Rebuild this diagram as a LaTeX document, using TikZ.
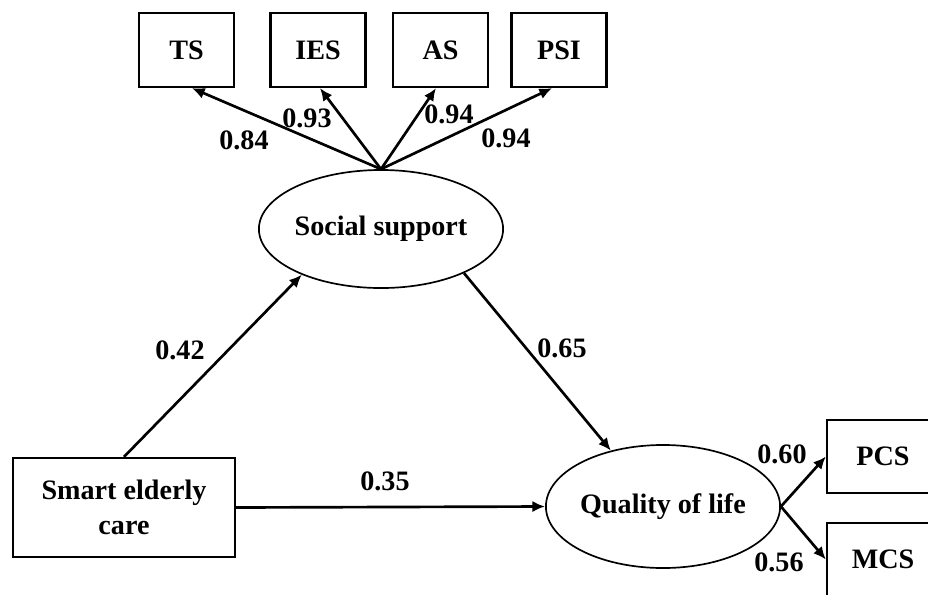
\documentclass[tikz,border=0pt]{standalone}
\usepackage{fontspec}
\setmainfont{Liberation Serif}
\usepackage{tikz}
\usetikzlibrary{positioning,arrows.meta,calc,shapes.geometric}

\begin{document}
\begin{tikzpicture}[x=0.025cm,y=-0.025cm,
    font=\fontsize{20}{25}\selectfont\bfseries,
    obs/.style={draw,line width=1.6pt,rectangle,inner sep=0pt,align=center},
    lat/.style={draw,line width=1.2pt,ellipse,inner sep=0pt},
    path/.style={line width=1.9pt,-{Latex[length=9pt,width=8pt]}},
    coef/.style={inner sep=0pt}]
  \useasboundingbox (0,0) rectangle (928,594);
  \clip (0,0) rectangle (928,594);
  % indicators of social support
  \node[obs,minimum width=2.375cm,minimum height=1.85cm] (ts) at (186.5,50){TS};
  \node[obs,minimum width=2.375cm,minimum height=1.85cm] (ies) at (318,50){IES};
  \node[obs,minimum width=2.375cm,minimum height=1.85cm] (as) at (440.5,50){AS};
  \node[obs,minimum width=2.375cm,minimum height=1.85cm] (psi) at (559,50){PSI};
  % latent variables
  \node[lat,minimum width=5.45cm,minimum height=2.95cm] (ss) at (381,229){Social support};
  \node[lat,minimum width=5.35cm,minimum height=3.075cm] (qol) at (663,506.5){Quality of life};
  \node[obs,minimum width=5.55cm,minimum height=2.475cm] (sec) at (124,507.5){Smart elderly\\care};
  % indicators of quality of life
  \node[obs,minimum width=2.8cm,minimum height=1.825cm] (pcs) at (883,456.5){PCS};
  \node[obs,minimum width=2.8cm,minimum height=1.825cm] (mcs) at (883,559.5){MCS};

  \draw[path](ss.north)--($(ts.south)+(5.5,0)$);
  \draw[path](ss.north)--($(ies.south)+(2,0)$);
  \draw[path](ss.north)--($(as.south)+(-4.5,0)$);
  \draw[path](ss.north)--($(psi.south)+(-7,0)$);
  \draw[path](sec.north)--(ss.210);
  \draw[path](ss.-28)--(qol.133);
  \draw[path](sec.east)--(qol.west);
  \draw[path](qol.east)--(pcs.west);
  \draw[path](qol.east)--(mcs.west);

  \node[coef] (l84) at (244,140){0.84};
  \node[coef] (l93) at (307,118){0.93};
  \node[coef] (l94a) at (449,114){0.94};
  \node[coef] (l94b) at (506,138){0.94};
  \node[coef] (l42) at (180,350){0.42};
  \node[coef] (l65) at (562,348){0.65};
  \node[coef] (l35) at (385,481){0.35};
  \node[coef] (l60) at (782,454){0.60};
  \node[coef] (l56) at (779,562){0.56};
\end{tikzpicture}
\end{document}
